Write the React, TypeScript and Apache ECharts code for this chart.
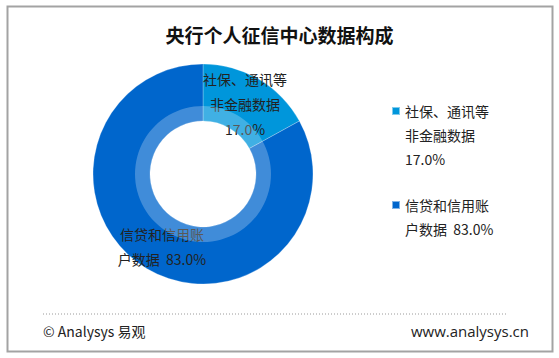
import React, { useEffect, useRef } from "react";
import * as echarts from "echarts";

const title = "央行个人征信中心数据构成";
const categories = ["社保、通讯等\n非金融数据", "信贷和信用账\n户数据"];
const values = [17.0, 83.0];
const separators = ["\n", "  "];
const colors = ["#0096DB", "#0066CC"];
const footerLeft = "© Analysys 易观";
const footerRight = "www.analysys.cn";

const FONT = "'Noto Sans CJK SC', 'Noto Sans', sans-serif";

function fmt(i: number) {
  return categories[i] + separators[i] + values[i].toFixed(1) + "%";
}

// Legend text: prepend blank lines so that the marker lines up with the first line.
function legendFmt(i: number) {
  const text = fmt(i);
  const extra = text.split("\n").length - 1;
  return "\n".repeat(extra) + text;
}

export default function App() {
  const ref = useRef<HTMLDivElement>(null);
  useEffect(() => {
    if (!ref.current) return;
    const chart = echarts.init(ref.current, null, { renderer: "svg" });
    const data = categories.map((c, i) => ({ name: c, value: values[i], itemStyle: { color: colors[i] } }));
    chart.setOption({
      animation: false,
      backgroundColor: "#ffffff",
      title: {
        text: title,
        left: "center",
        top: 20,
        textStyle: { fontFamily: FONT, fontSize: 19, fontWeight: "bold", color: "#111" },
      },
      legend: {
        orient: "vertical",
        left: 386,
        top: 46,
        itemWidth: 8,
        itemHeight: 8,
        itemGap: -2,
        icon: "rect",
        data: categories,
        formatter: (name: string) => legendFmt(categories.indexOf(name)),
        textStyle: {
          fontFamily: FONT,
          fontSize: 14,
          color: "#222",
          lineHeight: 24,
        },
      },
      graphic: [
        {
          type: "rect",
          shape: { x: 7.5, y: 6.5, width: 545, height: 345 },
          style: { fill: "none", stroke: "#a3a3a3", lineWidth: 2 },
          silent: true,
        },
        {
          type: "line",
          shape: { x1: 43, y1: 314, x2: 508, y2: 314 },
          style: { stroke: "#9a9a9a", lineWidth: 1, lineDash: [1, 2] },
          silent: true,
        },
        {
          type: "text",
          left: 43,
          top: 324,
          style: { text: footerLeft, fontFamily: FONT, fontSize: 14, fill: "#222" },
        },
        {
          type: "text",
          right: 30,
          top: 323,
          style: { text: footerRight, fontFamily: "'Open Sans', 'Noto Sans', sans-serif", fontSize: 15, fill: "#222" },
        },
      ],
      series: [
        {
          type: "pie",
          center: [203, 174],
          radius: [53, 110],
          startAngle: 90,
          clockwise: true,
          data,
          itemStyle: { borderColor: "rgba(255,255,255,0.5)", borderWidth: 0.5 },
          label: {
            show: true,
            position: "inside",
            formatter: (p: any) => fmt(p.dataIndex),
            fontFamily: FONT,
            fontSize: 14,
            color: "#222",
            lineHeight: 25,
          },
          labelLayout: (p: any) =>
            p.dataIndex === 0 ? { x: 245, y: 104 } : { x: 162, y: 246 },
          labelLine: { show: false },
          emphasis: { disabled: true },
          z: 2,
        },
        {
          type: "pie",
          center: [203, 174],
          radius: [53, 68],
          silent: true,
          data: [{ name: "_ring", value: 1, itemStyle: { color: "rgba(255,255,255,0.25)" } }],
          label: { show: false },
          labelLine: { show: false },
          emphasis: { disabled: true },
          z: 3,
        },
      ],
    });
    return () => chart.dispose();
  }, []);
  return <div ref={ref} style={{ position: "fixed", left: 0, top: 0, width: 559, height: 358 }} />;
}
